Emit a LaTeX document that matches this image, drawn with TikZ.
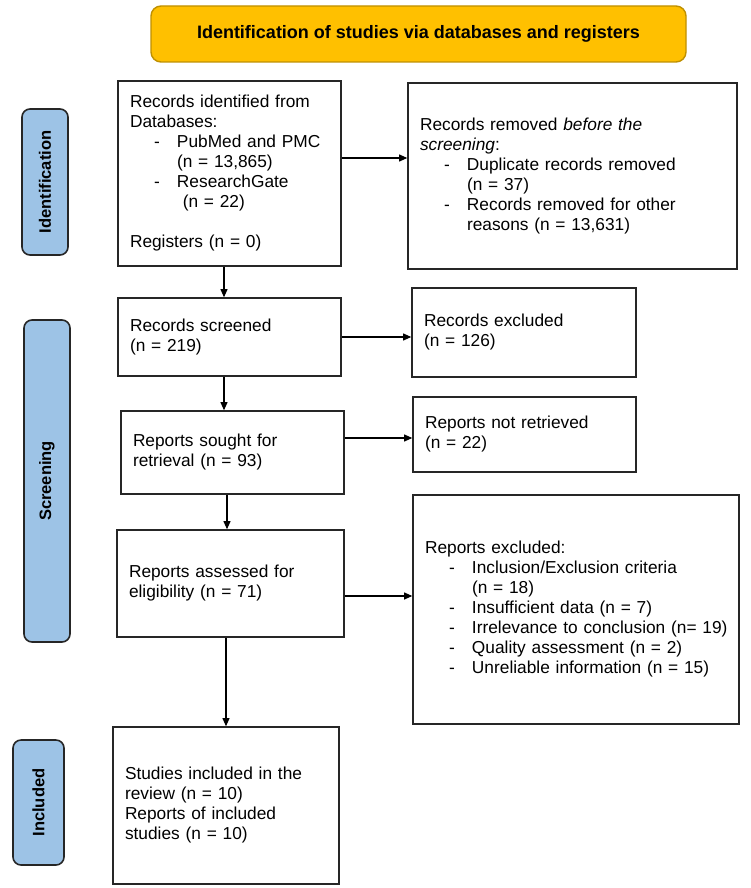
\documentclass[tikz,border=0pt]{standalone}
\usepackage{fontspec}
\setmainfont{Liberation Sans}
\usetikzlibrary{arrows.meta}

\definecolor{bannerfill}{HTML}{FFC000}
\definecolor{bannerline}{HTML}{BF9000}
\definecolor{phasefill}{HTML}{9DC3E6}
\definecolor{boxline}{HTML}{262626}

\newcommand{\dashitem}[1]{\makebox[0.94cm][l]{\hspace{0.48cm}-}\mbox{#1}}
\newcommand{\cont}[1]{\hspace*{0.94cm}\mbox{#1}}

\begin{document}
\begin{tikzpicture}[
        >={Triangle[length=4.6pt,width=4pt]},
        box/.style={draw=boxline, line width=0.9pt, align=left, inner xsep=0.24cm, inner ysep=0pt,
            font=\fontsize{9.85}{11.38}\selectfont},
        phase/.style={draw=black!85, line width=0.9pt, fill=phasefill, rounded corners=0.16cm,
            rotate=90, font=\fontsize{9.4}{11}\selectfont\bfseries},
        flow/.style={->, line width=0.6pt}
    ]
        \useasboundingbox (0, 0) rectangle (15, -17.76);

        \node [draw=bannerline, fill=bannerfill, rounded corners=0.2cm, line width=0.8pt,
            minimum width=10.7cm, minimum height=1.12cm,
            font=\fontsize{10.24}{12}\selectfont\bfseries] (banner) at (8.37, -.68)
            {Identification of studies via databases and registers};

        \node [phase, minimum width=2.92cm, minimum height=.92cm] (idphase) at (.9, -3.64) {Identification};
        \node [phase, minimum width=6.44cm, minimum height=.92cm] (scrphase) at (.94, -9.62) {Screening};
        \node [phase, minimum width=2.5cm, minimum height=1.02cm] (incphase) at (.77, -16.05) {Included};

        \node [box, text width=3.98cm, minimum height=3.7cm] (ident) at (4.59, -3.47)
            {Records identified from\\ Databases:\\ \dashitem{PubMed and PMC}\\ \cont{(n = 13,865)}\\
             \dashitem{ResearchGate}\\ \cont{\ (n = 22)}\\[11.38pt] Registers (n = 0)};
        \node [box, text width=6.1cm, minimum height=3.72cm] (removed) at (11.45, -3.52)
            {Records removed \textit{before the}\\ \textit{screening}:\\ \dashitem{Duplicate records removed}\\
             \cont{(n = 37)}\\ \dashitem{Records removed for other}\\ \cont{reasons (n = 13,631)}};

        \node [box, text width=3.98cm, minimum height=1.56cm] (screened) at (4.59, -6.74)
            {Records screened\\ (n = 219)};
        \node [box, text width=4cm, minimum height=1.78cm] (excluded) at (10.48, -6.65)
            {Records excluded\\ (n = 126)};
        \node [box, text width=3.98cm, minimum height=1.66cm] (sought) at (4.65, -9.05)
            {Reports sought for\\ retrieval (n = 93)};
        \node [box, text width=3.98cm, minimum height=1.5cm] (notretr) at (10.49, -8.69)
            {Reports not retrieved\\ (n = 22)};
        \node [box, text width=4.06cm, minimum height=2.14cm] (assessed) at (4.61, -11.67)
            {Reports assessed for\\ eligibility (n = 71)};
        \node [box, text width=6.04cm, minimum height=4.58cm] (repexcl) at (11.52, -12.19)
            {Reports excluded:\\ \dashitem{Inclusion/Exclusion criteria}\\ \cont{(n = 18)}\\
             \dashitem{Insufficient data (n = 7)}\\ \dashitem{Irrelevance to conclusion (n= 19)}\\
             \dashitem{Quality assessment (n = 2)}\\ \dashitem{Unreliable information (n = 15)}};
        \node [box, text width=4.04cm, minimum height=3.14cm] (studies) at (4.52, -16.11)
            {Studies included in the\\ review (n = 10)\\ Reports of included\\ studies (n = 10)};

        \draw [flow] ([yshift=.31cm]ident.east) -- ([yshift=.31cm]ident.east -| removed.west);
        \draw [flow] (screened.east) -- (screened.east -| excluded.west);
        \draw [flow] ([yshift=.29cm]sought.east) -- ([yshift=.29cm]sought.east -| notretr.west);
        \draw [flow] ([yshift=-.25cm]assessed.east) -- ([yshift=-.25cm]assessed.east -| repexcl.west);

        \draw [flow] ([xshift=-.11cm]ident.south) -- ([xshift=-.11cm]ident.south |- screened.north);
        \draw [flow] ([xshift=-.11cm]screened.south) -- ([xshift=-.11cm]screened.south |- sought.north);
        \draw [flow] ([xshift=-.11cm]sought.south) -- ([xshift=-.11cm]sought.south |- assessed.north);
        \draw [flow] (studies.north |- assessed.south) -- (studies.north);
    \end{tikzpicture}
\end{document}
